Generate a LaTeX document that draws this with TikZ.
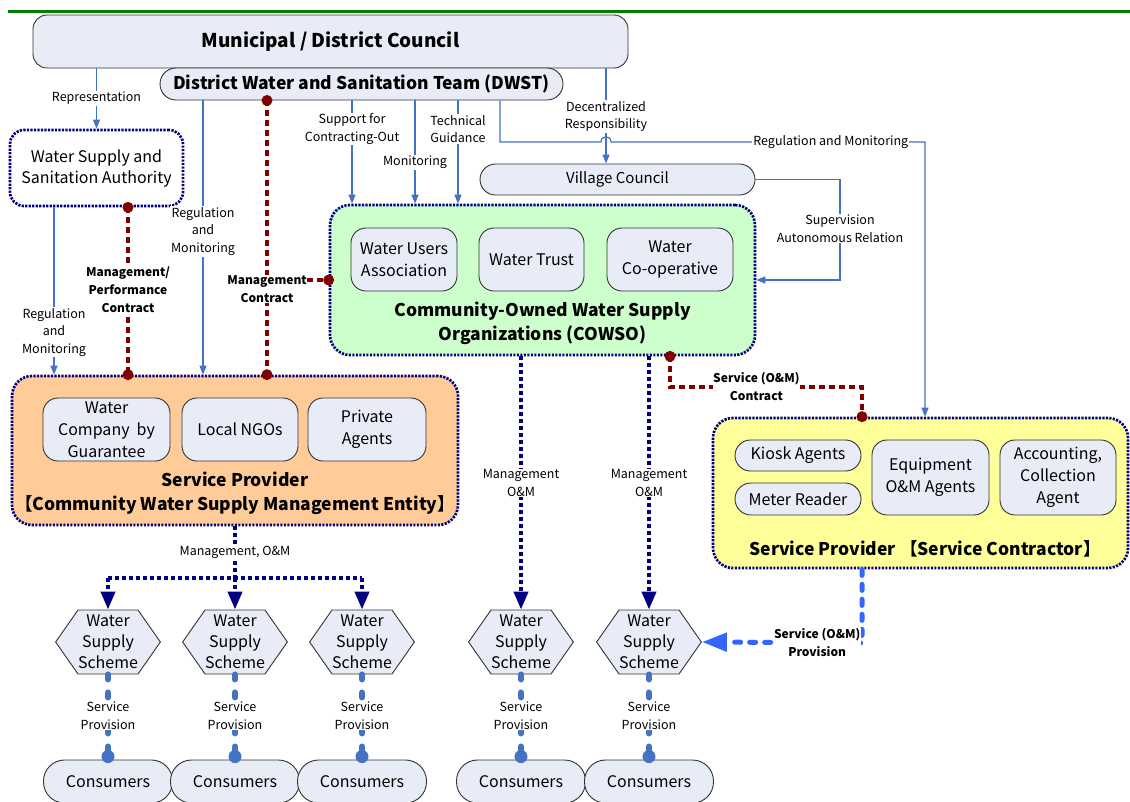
\documentclass[tikz,border=0pt]{standalone}
\usepackage{fontspec}
\setmainfont{Noto Sans CJK JP}
\usetikzlibrary{arrows.meta,shapes.symbols,calc}
\definecolor{navyc}{RGB}{0,0,128}
\definecolor{brownc}{RGB}{128,0,0}
\definecolor{linec}{RGB}{68,114,196}
\definecolor{brightb}{RGB}{51,102,255}
\definecolor{boxfill}{RGB}{231,236,246}
\definecolor{greenfill}{RGB}{204,255,204}
\definecolor{orangefill}{RGB}{255,204,153}
\definecolor{yellowfill}{RGB}{255,255,153}
\definecolor{topgreen}{RGB}{0,128,0}
\definecolor{edgec}{RGB}{50,50,50}
\begin{document}
\begin{tikzpicture}[x=1pt,y=-1pt,
 rbox/.style={draw=edgec, line width=0.9pt, fill=boxfill, rounded corners=#1, align=center, inner sep=0pt},
 rbox/.default=14pt,
 ibox/.style={rbox=15pt, font=\fontsize{16}{22}\selectfont},
 group/.style={draw=navyc, line width=2.7pt, dash pattern=on 2.2pt off 1.3pt, rounded corners=20pt, inner sep=0pt, align=center},
 ttl/.style={font=\bfseries\fontsize{17.5}{24}\selectfont, align=center, inner sep=0pt},
 lbl/.style={font=\fontsize{12.5}{17.5}\selectfont, fill=white, inner sep=1pt, align=center},
 blbl/.style={font=\bfseries\fontsize{12}{18}\selectfont, fill=white, inner sep=0.5pt, align=center},
 thinl/.style={draw=linec, line width=1.2pt},
 tarrow/.style={thinl, -{Triangle[length=9pt,width=7pt]}},
 contract/.style={draw=brownc, line width=4pt, dash pattern=on 6pt off 4pt},
 cdot/.style={circle, fill=brownc, inner sep=0pt, minimum size=11pt},
 mgmtline/.style={draw=navyc, line width=4pt, dash pattern=on 4pt off 3pt},
 mgmt/.style={mgmtline, -{Triangle[length=18pt,width=14pt]}},
 prov/.style={draw=linec, line width=6pt, line cap=round, dash pattern=on 5pt off 13pt},
 pdot/.style={circle, fill=linec, inner sep=0pt, minimum size=13pt},
 om/.style={draw=brightb, line width=5pt, line cap=round, dash pattern=on 6pt off 9pt, -{Triangle[length=25pt,width=18pt]}},
 hex/.style={shape=signal, signal to=west and east, signal pointer angle=110, draw=edgec, line width=0.9pt, fill=boxfill, minimum width=98pt, minimum height=64pt, inner sep=0pt, align=center, font=\fontsize{16}{21}\selectfont},
 cons/.style={rbox=21pt, minimum width=129pt, minimum height=43pt, font=\fontsize{16}{19}\selectfont}
]
\useasboundingbox (0,0) rectangle (1130,801);
\draw[line width=3pt, topgreen] (8,11) -- (1130,11);

% top boxes
\node[rbox=14pt, minimum width=595pt, minimum height=53pt, font=\bfseries\fontsize{19}{22}\selectfont] (mdc) at (330.5,41.5) {Municipal / District Council};
\node[rbox=16pt, minimum width=403pt, minimum height=32pt, font=\bfseries\fontsize{17.5}{22}\selectfont] (dwst) at (361.5,84) {District Water and Sanitation Team (DWST)};
\node[group, fill=white, minimum width=173pt, minimum height=76pt, rounded corners=14pt, font=\fontsize{16}{21}\selectfont] (wssa) at (96.5,168) {Water Supply and\\Sanitation Authority};
\node[rbox=15.5pt, minimum width=275pt, minimum height=31pt, font=\fontsize{15}{18}\selectfont] (vc) at (617.5,179.5) {Village Council};

% COWSO
\node[group, fill=greenfill, minimum width=425pt, minimum height=150pt] (cowso) at (542.5,280) {};
\node[ibox, minimum width=106pt, minimum height=63pt] (wua) at (404,259.5) {Water Users\\Association};
\node[ibox, minimum width=105pt, minimum height=63pt] (wt) at (531.5,259.5) {Water Trust};
\node[ibox, minimum width=126pt, minimum height=63pt] (wco) at (670,259.5) {Water\\Co-operative};
\node[ttl] (cowsot) at (542.5,323) {Community-Owned Water Supply\\Organizations (COWSO)};

% Service provider (orange)
\node[group, fill=orangefill, minimum width=446pt, minimum height=149pt] (spc) at (235,450.5) {};
\node[ibox, minimum width=127pt, minimum height=63pt] (wcg) at (106.5,429.5) {Water\\Company\ \ by\\Guarantee};
\node[ibox, minimum width=116pt, minimum height=63pt] (ngo) at (240,429.5) {Local NGOs};
\node[ibox, minimum width=118pt, minimum height=63pt] (pa) at (367,429.5) {Private\\Agents};
\node[ttl] (spct) at (235,493) {Service Provider\\【Community Water Supply Management Entity】};

% Service provider (yellow)
\node[group, fill=yellowfill, minimum width=415pt, minimum height=150pt] (spy) at (920.5,493) {};
\node[ibox, rbox=15.5pt, minimum width=126pt, minimum height=31pt] (ka) at (798,455.5) {Kiosk Agents};
\node[ibox, rbox=16pt, minimum width=126pt, minimum height=32pt] (mr) at (798,499) {Meter Reader};
\node[ibox, minimum width=117pt, minimum height=75pt] (eq) at (930.5,477.5) {Equipment\\O\&M Agents};
\node[ibox, minimum width=116pt, minimum height=75pt] (acc) at (1058,477.5) {Accounting,\\Collection\\Agent};
\node[ttl] (spyt) at (925,549) {Service Provider 【Service Contractor】};

% schemes and consumers
\foreach \i/\x in {1/108,2/235,3/362,4/521,5/649}{
  \node[hex] (h\i) at (\x,642) {Water\\Supply\\Scheme};
  \node[cons] (c\i) at (\x,781.5) {Consumers};
}

% thin blue connectors
\draw[tarrow] (mdc.south -| wssa.north) -- node[lbl,pos=0.5]{Representation} (wssa.north);
\draw[tarrow] (dwst.south -| 203,0) -- node[lbl,pos=0.478]{Regulation\\and\\Monitoring} (spc.north -| 203,0);
\draw[tarrow] (dwst.south -| 352,0) -- node[lbl,pos=0.276]{Support for\\Contracting-Out} (cowso.north -| 352,0);
\draw[tarrow] (dwst.south -| 415,0) -- node[lbl,pos=0.6]{Monitoring} (cowso.north -| 415,0);
\draw[tarrow] (dwst.south -| 458,0) -- node[lbl,pos=0.276]{Technical\\Guidance} (cowso.north -| 458,0);
\draw[tarrow] (mdc.south -| 606,0) -- node[lbl,pos=0.505]{Decentralized\\Responsibility} (vc.north -| 606,0);
\draw[tarrow] (dwst.south -| 500,0) -- (500,142) -- (601,142) .. controls (601,135) and (611,135) .. (611,142) -- node[lbl,pos=0.70]{Regulation and Monitoring} (925,142) -- (spy.north -| 925,0);
\draw[tarrow] (vc.east) -- (vc.east -| 840,0) -- node[lbl,pos=0.49]{Supervision\\Autonomous Relation} (cowso.east -| 840,0) -- (cowso.east);

% contracts (brown)
\draw[contract] (wssa.south -| 128,0) -- node[blbl,pos=0.494]{Management/\\Performance\\Contract} (spc.north -| 128,0);
\draw[tarrow] (wssa.south -| 54,0) -- node[lbl,pos=0.747]{Regulation\\and\\Monitoring} (spc.north -| 54,0);
\draw[contract] (dwst.south -| 267,0) -- (spc.north -| 267,0);
\draw[contract] (cowso.west -| 267,0) -- (cowso.west);
\node[blbl] (mcl) at (267,289) {Management\\Contract};
\draw[contract] (cowso.south -| 670,0) -- (670,387) -- node[blbl,pos=0.45]{Service (O\&M)\\Contract} (862,387) -- (spy.north -| 862,0);
\node[cdot] (d1) at (wssa.south -| 128,0) {};
\node[cdot] (d2) at (spc.north -| 128,0) {};
\node[cdot] (d3) at (dwst.south -| 267,0) {};
\node[cdot] (d4) at (spc.north -| 267,0) {};
\node[cdot] (d5) at (cowso.west) {};
\node[cdot] (d6) at (cowso.south -| 670,0) {};
\node[cdot] (d7) at (spy.north -| 862,0) {};

% management O&M (navy)
\draw[mgmt] (cowso.south -| h4.north) -- node[lbl,pos=0.5]{Management\\O\&M} (h4.north);
\draw[mgmt] (cowso.south -| h5.north) -- node[lbl,pos=0.5]{Management\\O\&M} (h5.north);
\draw[mgmtline] (spc.south) -- node[lbl,pos=0.5]{Management, O\&M} (h2.north |- 0,578);
\draw[mgmtline] (h1.north |- 0,578) -- (h3.north |- 0,578);
\draw[mgmt] (h1.north |- 0,578) -- (h1.north);
\draw[mgmt] (h2.north |- 0,578) -- (h2.north);
\draw[mgmt] (h3.north |- 0,578) -- (h3.north);

% service provision
\foreach \i in {1,...,5}{
  \draw[prov] (h\i.south) -- node[lbl,pos=0.5]{Service\\Provision} ($(c\i.north)+(0,-3)$);
  \node[pdot] (p\i) at ($(c\i.north)+(0,-3)$) {};
}
\draw[om] (spy.south -| 862,0) -- (862,643) -- node[blbl,pos=0.28]{Service (O\&M)\\Provision} (h5.east);
\end{tikzpicture}
\end{document}
